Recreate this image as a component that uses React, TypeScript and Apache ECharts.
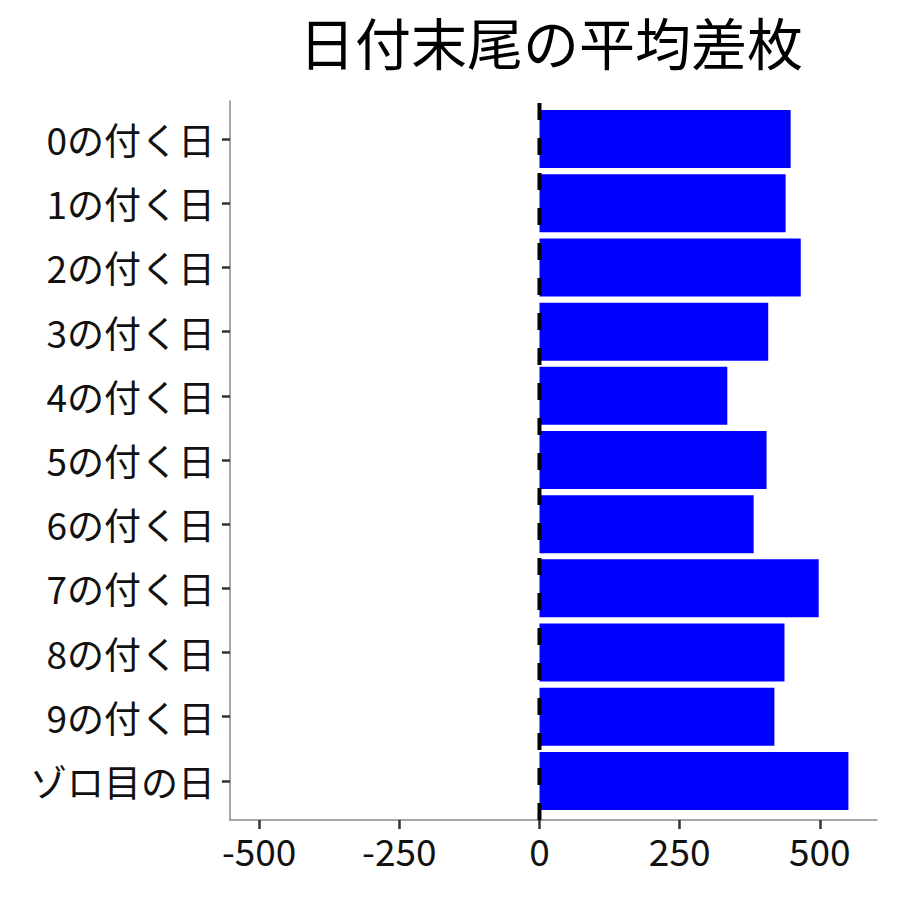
import React from 'react';
import { useEffect, useRef } from 'react';
import * as echarts from 'echarts';

// 日付末尾ごとの平均差枚
const categories = [
  '0の付く日',
  '1の付く日',
  '2の付く日',
  '3の付く日',
  '4の付く日',
  '5の付く日',
  '6の付く日',
  '7の付く日',
  '8の付く日',
  '9の付く日',
  'ゾロ目の日'
];
const averageDiff = [448, 439, 466, 408, 335, 405, 382, 498, 437, 419, 551];
const xTicks = [-500, -250, 0, 250, 500];
const xMin = -552;
const xMax = 602;
// 0 の位置の破線 (下から上へ)
const zeroLine = [
  [0, 0],
  [0, 1]
];

const FONT = '"Noto Sans CJK JP", "Noto Sans", sans-serif';

const App: React.FC = () => {
  const chartRef = useRef<HTMLDivElement>(null);

  useEffect(() => {
    document.body.style.margin = '0';
    if (!chartRef.current) return;
    const chart = echarts.init(chartRef.current, null, { renderer: 'svg' });

    const option = {
      animation: false,
      title: {
        text: '日付末尾の平均差枚',
        left: 294,
        top: 7,
        textStyle: {
          fontFamily: FONT,
          fontSize: 56,
          fontWeight: 'normal',
          color: '#000'
        }
      },
      grid: [
        // 棒グラフ用 (カテゴリの帯を ggplot と合わせる)
        { left: 230, right: 23, top: 107, bottom: 87 },
        // 軸線用
        { left: 230, right: 23, top: 101, bottom: 80 }
      ],
      xAxis: [
        {
          type: 'value',
          gridIndex: 0,
          min: xMin,
          max: xMax,
          show: false
        },
        {
          type: 'value',
          gridIndex: 1,
          min: xMin,
          max: xMax,
          axisLine: { show: true, onZero: false, lineStyle: { color: '#8a8a8a', width: 1.5 } },
          axisTick: {
            show: true,
            length: 9,
            customValues: xTicks,
            lineStyle: { color: '#333', width: 2.5 }
          },
          axisLabel: {
            customValues: xTicks,
            margin: 11,
            fontFamily: FONT,
            fontSize: 37,
            color: '#111'
          },
          splitLine: { show: false }
        }
      ],
      yAxis: [
        {
          type: 'category',
          gridIndex: 0,
          data: categories,
          inverse: true,
          axisLine: { show: false, onZero: false },
          axisTick: {
            show: true,
            alignWithLabel: true,
            length: 8,
            lineStyle: { color: '#333', width: 2.5 }
          },
          axisLabel: {
            margin: 15,
            fontFamily: FONT,
            fontSize: 37,
            color: '#111'
          }
        },
        {
          type: 'value',
          gridIndex: 1,
          min: 0,
          max: 1,
          axisLine: { show: true, onZero: false, lineStyle: { color: '#8a8a8a', width: 1.5 } },
          axisTick: { show: false },
          axisLabel: { show: false },
          splitLine: { show: false }
        }
      ],
      series: [
        {
          type: 'bar',
          xAxisIndex: 0,
          yAxisIndex: 0,
          data: averageDiff,
          barWidth: 58,
          itemStyle: { color: '#0000ff' },
          z: 2
        },
        {
          type: 'line',
          xAxisIndex: 1,
          yAxisIndex: 1,
          data: zeroLine,
          showSymbol: false,
          symbol: 'none',
          lineStyle: { color: '#000', width: 4, type: [17, 18] },
          z: 3
        }
      ]
    };

    chart.setOption(option);

    return () => {
      chart.dispose();
    };
  }, []);

  return <div ref={chartRef} style={{ width: '900px', height: '900px' }}></div>;
};

export default App;
